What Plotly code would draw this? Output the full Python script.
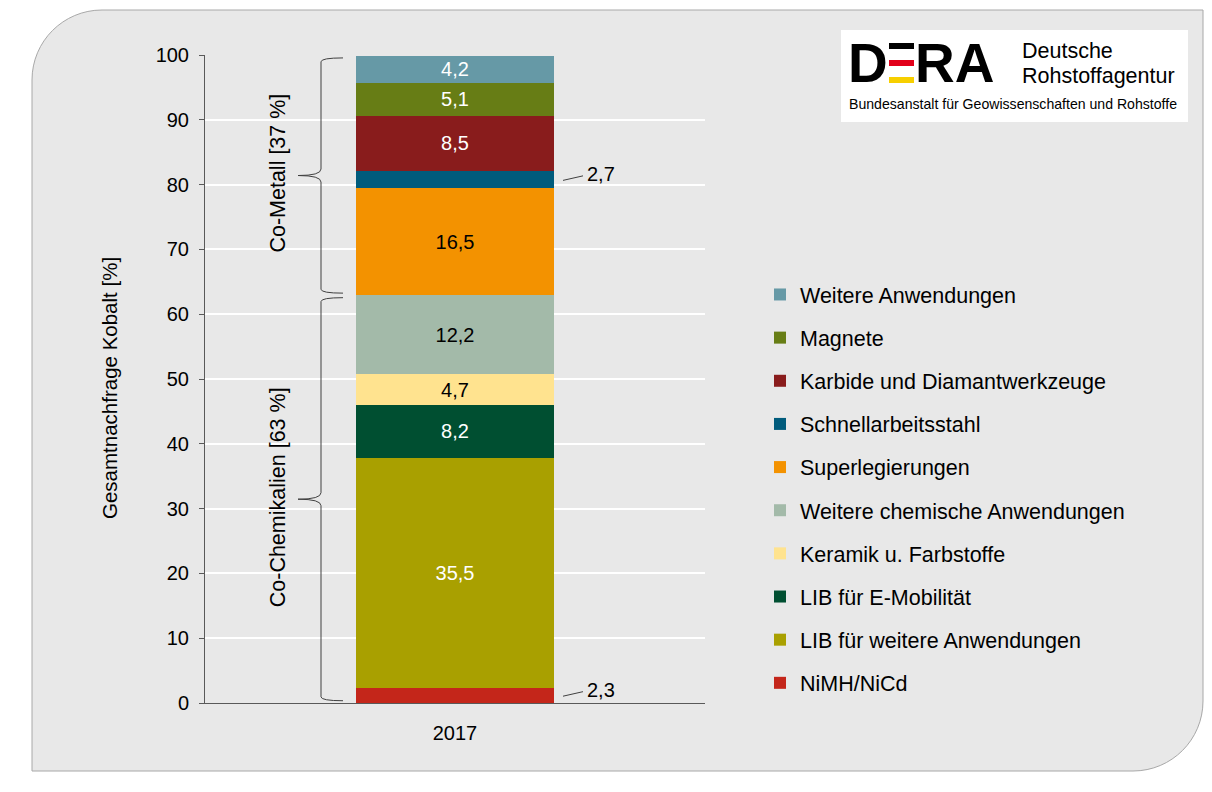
import plotly.graph_objects as go

# ---------------- data ----------------
category = ["2017"]
names = ["NiMH/NiCd", "LIB für weitere Anwendungen", "LIB für E-Mobilität",
         "Keramik u. Farbstoffe", "Weitere chemische Anwendungen", "Superlegierungen",
         "Schnellarbeitsstahl", "Karbide und Diamantwerkzeuge", "Magnete",
         "Weitere Anwendungen"]
values = [2.3, 35.5, 8.2, 4.7, 12.2, 16.5, 2.7, 8.5, 5.1, 4.2]
colors = ["#c4261a", "#a9a000", "#004f31", "#ffe38f", "#a3baa9", "#f39200",
          "#005b7c", "#891c1c", "#677d15", "#6699a6"]
text_colors = ["black", "white", "white", "black", "black", "black",
               "white", "white", "white", "white"]
group_labels = ["Co-Chemikalien [63 %]", "Co-Metall [37 %]"]
group_sizes = [5, 5]          # number of segments in each group (bottom to top)
y_ticks = [0, 10, 20, 30, 40, 50, 60, 70, 80, 90, 100]
y_title = "Gesamtnachfrage Kobalt [%]"

FONT = "Liberation Sans, Arial, sans-serif"
FS = 20

# plot area in pixels
L, R_, T, B = 205, 705, 55, 703
W, H = 1212, 792


def px(x):
    return (x - L) / (R_ - L)


def py(y):
    return (B - y) / (B - T)


def fmt(v):
    return f"{v:.1f}".replace(".", ",")


fig = go.Figure()
for i, (n, v, c, tc) in enumerate(zip(names, values, colors, text_colors)):
    small = v < 3
    fig.add_trace(go.Bar(
        x=category, y=[v], name=n, marker=dict(color=c, line=dict(width=0)),
        width=0.396, text=[""] if small else [fmt(v)],
        textposition="inside", insidetextanchor="middle", textangle=0,
        insidetextfont=dict(color=tc, size=FS, family=FONT),
        legendgroup=n, legendrank=len(names) - i,
        hovertemplate=n + ": %{y}<extra></extra>",
    ))

shapes = []
annotations = []

# background panel with two rounded corners
rr = 70
k = 0.5523
x0p, x1p, y0p, y1p = 32, 1203, 10, 771
path = (f"M {px(x0p)},{py(y0p+rr)} "
        f"C {px(x0p)},{py(y0p+rr*(1-k))} {px(x0p+rr*(1-k))},{py(y0p)} {px(x0p+rr)},{py(y0p)} "
        f"L {px(x1p)},{py(y0p)} L {px(x1p)},{py(y1p-rr)} "
        f"C {px(x1p)},{py(y1p-rr*(1-k))} {px(x1p-rr*(1-k))},{py(y1p)} {px(x1p-rr)},{py(y1p)} "
        f"L {px(x0p)},{py(y1p)} Z")
shapes.append(dict(type="path", xref="paper", yref="paper", path=path,
                   fillcolor="#e8e8e8", line=dict(color="#a8a8a8", width=1), layer="below"))

# logo box
shapes.append(dict(type="rect", xref="paper", yref="paper", x0=px(841), x1=px(1188),
                   y0=py(122), y1=py(30), fillcolor="white", line=dict(width=0), layer="below"))
# E bars of the logo (black / red / gold)
for (ya, yb, col) in [(43, 49, "#000000"), (60, 66, "#e2001a"), (77, 83, "#f7cf00")]:
    shapes.append(dict(type="rect", xref="paper", yref="paper", x0=px(889), x1=px(914),
                       y0=py(yb), y1=py(ya), fillcolor=col, line=dict(width=0), layer="above"))
annotations.append(dict(xref="paper", yref="paper", x=px(846), y=py(63), text="<b>D</b>",
                        showarrow=False, xanchor="left", yanchor="middle",
                        font=dict(family=FONT, size=55, color="black")))
annotations.append(dict(xref="paper", yref="paper", x=px(913), y=py(63), text="<b>RA</b>",
                        showarrow=False, xanchor="left", yanchor="middle",
                        font=dict(family=FONT, size=55, color="black")))
annotations.append(dict(xref="paper", yref="paper", x=px(1020), y=py(51), text="Deutsche",
                        showarrow=False, xanchor="left", yanchor="middle",
                        font=dict(family=FONT, size=21.5, color="black")))
annotations.append(dict(xref="paper", yref="paper", x=px(1020), y=py(76), text="Rohstoffagentur",
                        showarrow=False, xanchor="left", yanchor="middle",
                        font=dict(family=FONT, size=21.5, color="black")))
annotations.append(dict(xref="paper", yref="paper", x=px(847), y=py(104),
                        text="Bundesanstalt für Geowissenschaften und Rohstoffe",
                        showarrow=False, xanchor="left", yanchor="middle",
                        font=dict(family=FONT, size=14.1, color="black")))

# cumulative positions
cum = []
s = 0
for v in values:
    cum.append((s, s + v))
    s += v

# outside labels with leader lines for small segments
for (a, b), v in zip(cum, values):
    if v < 3:
        mid = (a + b) / 2
        shapes.append(dict(type="line", xref="paper", yref="y", x0=px(563), x1=px(583),
                           y0=mid - 0.1, y1=mid + 0.6, line=dict(color="#404040", width=1)))
        annotations.append(dict(xref="paper", yref="y", x=px(585), y=mid + 0.9, text=fmt(v),
                                showarrow=False, xanchor="left", yanchor="middle",
                                font=dict(family=FONT, size=FS, color="black")))

# braces with group labels
xe, xv, xt = px(343), px(321), px(298)
start = 0
for lab, n in zip(group_labels, group_sizes):
    y0 = cum[start][0] + 0.35
    y1 = cum[start + n - 1][1] - 0.35
    ym = (y0 + y1) / 2
    de, dt = 0.6, 1.0
    p = (f"M {xe},{y0} Q {xv},{y0} {xv},{y0+de} L {xv},{ym-dt} "
         f"Q {xv},{ym} {xt},{ym} Q {xv},{ym} {xv},{ym+dt} "
         f"L {xv},{y1-de} Q {xv},{y1} {xe},{y1}")
    shapes.append(dict(type="path", xref="paper", yref="y", path=p,
                       line=dict(color="#404040", width=1)))
    annotations.append(dict(xref="paper", yref="y", x=px(278), y=ym + 0.3, text=lab,
                            showarrow=False, textangle=-90, xanchor="center", yanchor="middle",
                            font=dict(family=FONT, size=21.5, color="black")))
    start += n

# y axis title
annotations.append(dict(xref="paper", yref="paper", x=px(110), y=py(388), text=y_title,
                        showarrow=False, textangle=-90, xanchor="center", yanchor="middle",
                        font=dict(family=FONT, size=20.5, color="black")))

fig.update_layout(
    width=W, height=H, barmode="stack",
    margin=dict(l=L, r=W - R_, t=T, b=H - B, pad=0),
    paper_bgcolor="white", plot_bgcolor="rgba(0,0,0,0)",
    font=dict(family=FONT, size=FS, color="black"),
    separators=",.",
    shapes=shapes, annotations=annotations,
    uniformtext=dict(minsize=FS, mode="show"),
    legend=dict(x=px(760), xanchor="left", y=py(274), yanchor="top",
                traceorder="grouped", tracegroupgap=12.2,
                bgcolor="rgba(0,0,0,0)", font=dict(family=FONT, size=21.5, color="black")),
    xaxis=dict(type="category", range=[-0.5, 0.5], showline=True, linecolor="#595959",
               linewidth=1, ticks="", showgrid=False, ticklabelstandoff=12,
               tickfont=dict(family=FONT, size=FS, color="black")),
    yaxis=dict(range=[0, 100], tickvals=y_ticks, showline=True, linecolor="#595959",
               linewidth=1, ticks="outside", ticklen=5, tickcolor="#595959",
               showgrid=True, gridcolor="white", gridwidth=1.5, zeroline=False,
               ticklabelstandoff=6, tickfont=dict(family=FONT, size=FS, color="black")),
)

fig.write_html("out.html", config={"displayModeBar": False},
               post_script="document.body.style.margin='0px';")
